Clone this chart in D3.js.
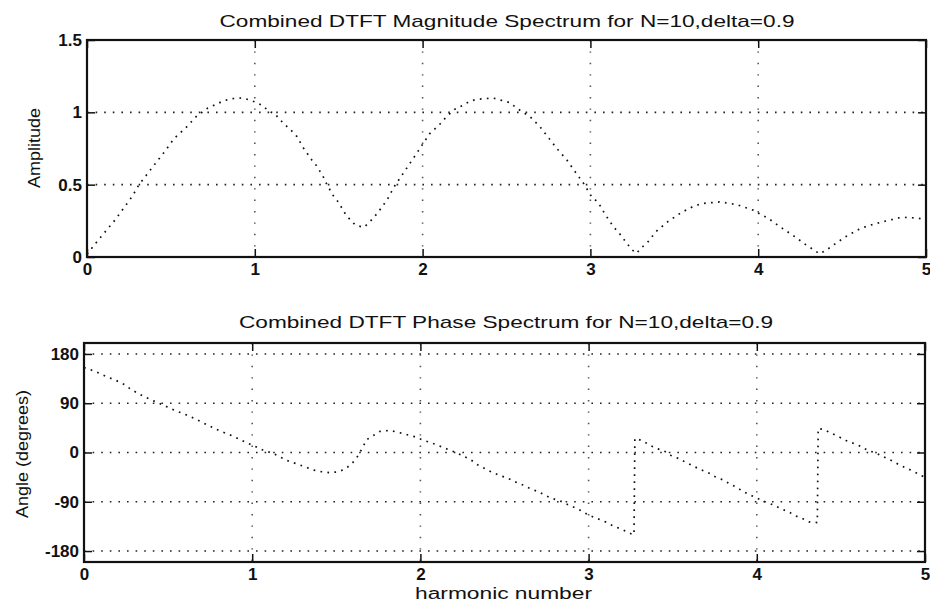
<!DOCTYPE html>
<html>
<head>
<meta charset="utf-8">
<script src="https://cdn.jsdelivr.net/npm/d3@7"></script>
<style>
  body { margin: 0; background: #fff; }
  text { font-family: "Liberation Sans", Arial, sans-serif; fill: #111; }
  .tick text { font-size: 17px; font-weight: bold; }
  .tick line { stroke: #111; stroke-width: 1.5; }
  .grid { stroke: #222; stroke-width: 1.6; stroke-dasharray: 1.6 7; fill: none; }
  .vgrid { stroke: #555; stroke-dasharray: 1.4 10; }
  .trace { stroke: #111; stroke-width: 1.7; stroke-dasharray: 1.7 5.3; fill: none; }
  .frame { fill: none; stroke: #111; stroke-width: 2.2; }
  .label { font-size: 17px; }
</style>
</head>
<body>
<svg id="chart" width="930" height="606"></svg>
<script>
// harmonic number axis
const xTicks = [0, 1, 2, 3, 4, 5];
const magTicks = [0, 0.5, 1, 1.5];
const phaseTicks = [-180, -90, 0, 90, 180];

// magnitude spectrum
const magX = [0, 0.08, 0.17, 0.27, 0.31, 0.39, 0.47, 0.52, 0.59, 0.65, 0.72, 0.77, 0.81, 0.86, 0.93,
  1.0, 1.05, 1.08, 1.12, 1.144, 1.174, 1.216, 1.25, 1.29, 1.34, 1.37, 1.41, 1.43, 1.45, 1.47, 1.50,
  1.52, 1.54, 1.57, 1.60, 1.65, 1.68, 1.71, 1.74, 1.79, 1.83, 1.90, 1.97, 2.02, 2.04, 2.11, 2.14,
  2.19, 2.24, 2.28, 2.32, 2.42, 2.47, 2.52, 2.56, 2.59, 2.64, 2.70, 2.75, 2.80, 2.86, 2.91, 2.96,
  3.00, 3.05, 3.09, 3.14, 3.17, 3.22, 3.25, 3.275, 3.30, 3.34, 3.39, 3.46, 3.54, 3.62, 3.67, 3.77,
  3.87, 3.97, 4.01, 4.06, 4.13, 4.21, 4.28, 4.33, 4.365, 4.40, 4.44, 4.52, 4.60, 4.65, 4.74, 4.84,
  4.89, 4.94, 5.0];
const magY = [0.02, 0.135, 0.26, 0.42, 0.50, 0.62, 0.74, 0.82, 0.895, 0.97, 1.03, 1.055, 1.078, 1.094, 1.10,
  1.072, 1.044, 1.01, 0.99, 0.957, 0.92, 0.876, 0.834, 0.754, 0.67, 0.628, 0.55, 0.50, 0.46, 0.42, 0.377,
  0.336, 0.297, 0.255, 0.22, 0.205, 0.237, 0.274, 0.317, 0.398, 0.485, 0.605, 0.726, 0.814, 0.85, 0.926, 0.967,
  1.02, 1.048, 1.076, 1.09, 1.099, 1.083, 1.067, 1.03, 1.007, 0.97, 0.9, 0.825, 0.75, 0.67, 0.588, 0.508,
  0.43, 0.37, 0.29, 0.205, 0.168, 0.09, 0.048, 0.025, 0.06, 0.10, 0.175, 0.243, 0.306, 0.354, 0.37, 0.381,
  0.363, 0.324, 0.297, 0.267, 0.209, 0.147, 0.088, 0.05, 0.022, 0.043, 0.076, 0.14, 0.191, 0.214, 0.243, 0.271,
  0.274, 0.269, 0.262];

// phase spectrum in degrees
const phaseX = [0, 0.06, 0.135, 0.19, 0.24, 0.28, 0.36, 0.45, 0.54, 0.63, 0.71, 0.80, 0.89, 0.97, 1.01,
  1.06, 1.13, 1.22, 1.26, 1.32, 1.36, 1.41, 1.46, 1.51, 1.55, 1.59, 1.62, 1.64, 1.66, 1.68, 1.76, 1.815,
  1.87, 1.96, 2.00, 2.04, 2.08, 2.13, 2.18, 2.22, 2.26, 2.30, 2.34, 2.39, 2.43, 2.48, 2.52, 2.56, 2.61,
  2.65, 2.70, 2.74, 2.78, 2.83, 2.87, 2.92, 2.96, 3.00, 3.05, 3.10, 3.15, 3.20, 3.25, 3.27, 3.275, 3.32,
  3.36, 3.405, 3.45, 3.49, 3.54, 3.58, 3.62, 3.66, 3.71, 3.75, 3.80, 3.84, 3.88, 3.92, 3.96, 4.005, 4.05,
  4.10, 4.14, 4.19, 4.23, 4.27, 4.31, 4.36, 4.365, 4.40, 4.44, 4.49, 4.53, 4.58, 4.62, 4.66, 4.71, 4.75,
  4.80, 4.84, 4.89, 4.935, 4.97, 5.0];
const phaseY = [155, 149, 138.5, 131.7, 124.3, 115, 101.7, 89.4, 77, 66, 54, 40.4, 29.4, 17.3, 12.3,
  5, -2.4, -16.5, -20.2, -26.8, -31.8, -34.9, -36.7, -35.4, -30.5, -21.3, -10.3, 0, 11, 23.3, 38.6, 40.4,
  36.7, 29.4, 24.6, 20.2, 16, 9.9, 3.7, -1.1, -7.3, -13.4, -22.6, -30.5, -36.7, -42.8, -47, -53.3, -59.3,
  -65.4, -71.6, -77.7, -83.8, -88.2, -94.2, -101, -107, -114.4, -120.5, -126.7, -134.6, -140.7, -148, -150, 26, 21.5,
  14.1, 7.3, 2.6, -5.5, -11.6, -18.4, -24.4, -30.5, -36.7, -44, -50.1, -57.5, -63.6, -71.6, -77.7, -83.8, -90,
  -96, -102.2, -108.4, -115.7, -120.5, -126.7, -128, 44, 41.7, 35.6, 28.3, 22, 16, 11, 3.7, -1.1, -7.3,
  -14.7, -21.3, -28.6, -34.9, -41, -45];

const svg = d3.select('#chart');
const fmt = d => String(d); // plain hyphen minus, like the original

function drawPanel(p) {
  const x = d3.scaleLinear().domain([0, 5]).range([p.left, p.right]);
  const y = d3.scaleLinear().domain(p.yDomain).range([p.bottom, p.top]);
  const g = svg.append('g');

  // dotted grid
  g.append('g').selectAll('line')
    .data(p.yTicks.filter(d => y(d) > p.top + 1 && y(d) < p.bottom - 1))
    .join('line')
    .attr('class', 'grid')
    .attr('x1', p.left).attr('x2', p.right)
    .attr('y1', d => y(d)).attr('y2', d => y(d));
  g.append('g').selectAll('line')
    .data(xTicks.filter(d => d > 0 && d < 5))
    .join('line')
    .attr('class', 'grid vgrid')
    .attr('x1', d => x(d)).attr('x2', d => x(d))
    .attr('y1', p.top).attr('y2', p.bottom);

  // the spectrum, drawn dotted like matlab ':'
  const line = d3.line().x(d => x(d[0])).y(d => y(d[1]));
  g.append('path')
    .attr('class', 'trace')
    .attr('d', line(d3.zip(p.xs, p.ys)));

  // axes, ticks pointing inward
  g.append('g')
    .attr('transform', `translate(0,${p.bottom})`)
    .call(d3.axisBottom(x).tickValues(xTicks).tickSize(-8).tickPadding(6).tickFormat(fmt))
    .call(a => a.select('.domain').remove());
  g.append('g')
    .attr('transform', `translate(0,${p.top})`)
    .call(d3.axisTop(x).tickValues(xTicks).tickSize(-8).tickFormat(''))
    .call(a => a.select('.domain').remove());
  g.append('g')
    .attr('transform', `translate(${p.left},0)`)
    .call(d3.axisLeft(y).tickValues(p.yTicks).tickSize(-8).tickPadding(5).tickFormat(fmt))
    .call(a => a.select('.domain').remove());
  g.append('g')
    .attr('transform', `translate(${p.right},0)`)
    .call(d3.axisRight(y).tickValues(p.yTicks).tickSize(-8).tickFormat(''))
    .call(a => a.select('.domain').remove());
  g.selectAll('.tick text').attr('font-family', null).attr('font-size', null);

  g.append('rect')
    .attr('class', 'frame')
    .attr('x', p.left).attr('y', p.top)
    .attr('width', p.right - p.left).attr('height', p.bottom - p.top);

  g.append('text')
    .attr('class', 'label')
    .attr('x', p.titleX).attr('y', p.titleY)
    .attr('text-anchor', 'middle')
    .attr('textLength', p.titleLen).attr('lengthAdjust', 'spacingAndGlyphs')
    .text(p.title);

  g.append('text')
    .attr('class', 'label')
    .attr('transform', `translate(${p.yLabelX},${p.yLabelY}) rotate(-90)`)
    .attr('text-anchor', 'middle')
    .attr('textLength', p.yLabelLen).attr('lengthAdjust', 'spacingAndGlyphs')
    .text(p.yLabel);
}

drawPanel({
  left: 87, right: 926, top: 40, bottom: 257,
  yDomain: [0, 1.5], yTicks: magTicks,
  xs: magX, ys: magY,
  title: 'Combined DTFT Magnitude Spectrum for N=10,delta=0.9',
  titleX: 507, titleY: 27, titleLen: 575,
  yLabel: 'Amplitude', yLabelX: 40, yLabelY: 148, yLabelLen: 80
});

drawPanel({
  left: 84, right: 925, top: 343, bottom: 562,
  yDomain: [-200, 200], yTicks: phaseTicks,
  xs: phaseX, ys: phaseY,
  title: 'Combined DTFT Phase Spectrum for N=10,delta=0.9',
  titleX: 506, titleY: 328, titleLen: 534,
  yLabel: 'Angle (degrees)', yLabelX: 28, yLabelY: 454, yLabelLen: 128
});

svg.append('text')
  .attr('class', 'label')
  .style('font-size', '16px')
  .attr('x', 503.5).attr('y', 599)
  .attr('text-anchor', 'middle')
  .attr('textLength', 177).attr('lengthAdjust', 'spacingAndGlyphs')
  .text('harmonic number');
</script>
</body>
</html>
